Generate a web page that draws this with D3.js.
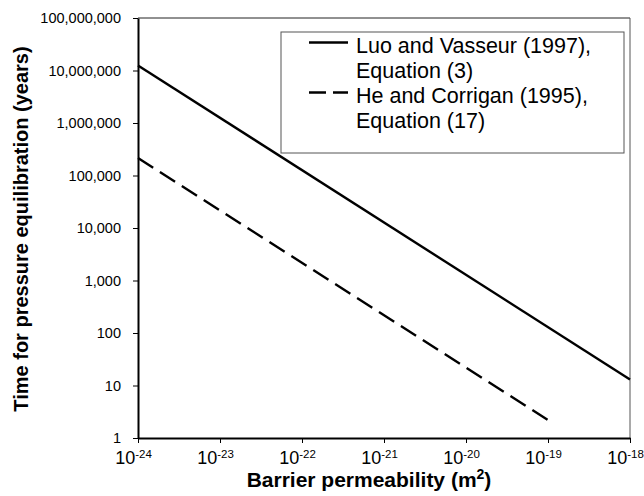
<!DOCTYPE html>
<html>
<head>
<meta charset="utf-8">
<script src="https://cdn.jsdelivr.net/npm/d3@7"></script>
<style>
  body { margin: 0; background: #fff; }
  svg { display: block; font-family: "Liberation Sans", Arial, sans-serif; }
</style>
</head>
<body>
<div id="chart"></div>
<script>
// permeability (m^2) vs time for pressure equilibration (years), log-log
var xTicks = [1e-24, 1e-23, 1e-22, 1e-21, 1e-20, 1e-19, 1e-18];
var xTickExp = ["-24", "-23", "-22", "-21", "-20", "-19", "-18"];
var yTicks = [1, 10, 100, 1e3, 1e4, 1e5, 1e6, 1e7, 1e8];

var luoK = [1e-24, 1e-18];
var luoT = [1.25e7, 13];
var heK = [1e-24, 1e-19];
var heT = [2.15e5, 2.2];

var legendItems = [
	{lines: ["Luo and Vasseur (1997),", "Equation (3)"], dash: null},
	{lines: ["He and Corrigan (1995),", "Equation (17)"], dash: "17,7"}
];

var W = 644, H = 496;
var margin = {top: 18, right: 14, bottom: 58, left: 138};
var width = W - margin.left - margin.right;
var height = H - margin.top - margin.bottom;
var FONT = "'Liberation Sans', Arial, sans-serif";

var svg = d3.select("#chart").append("svg").attr("width", W).attr("height", H);
var g = svg.append("g").attr("transform", "translate(" + margin.left + "," + margin.top + ")");

var x = d3.scaleLog().domain([1e-24, 1e-18]).range([0, width]);
var y = d3.scaleLog().domain([1, 1e8]).range([height, 0]);

//frame: thin top and right
g.append("line").attr("x1", 0).attr("x2", width).attr("y1", 0).attr("y2", 0)
	.attr("stroke", "#222").attr("stroke-width", 1);
g.append("line").attr("x1", width).attr("x2", width).attr("y1", 0).attr("y2", height)
	.attr("stroke", "#555").attr("stroke-width", 1);

//y axis
var yAxis = g.append("g")
	.call(d3.axisLeft(y).tickValues(yTicks).tickFormat(d3.format(",")).tickSize(5).tickSizeOuter(0).tickPadding(12))
	.attr("font-family", FONT).attr("font-size", 14.5);
yAxis.select(".domain").attr("stroke-width", 2);
yAxis.selectAll(".tick line").attr("stroke-width", 1);
yAxis.selectAll(".tick text").attr("fill", "#000");

//x axis
var xAxis = g.append("g").attr("transform", "translate(0," + height + ")")
	.call(d3.axisBottom(x).tickValues(xTicks).tickFormat("").tickSize(5).tickSizeOuter(0))
	.attr("font-family", FONT).attr("font-size", 18);
xAxis.select(".domain").attr("stroke-width", 2);
xAxis.selectAll(".tick line").attr("stroke-width", 1);
xAxis.selectAll(".tick text").remove();
var xt = xAxis.selectAll(".tick").append("text")
	.attr("y", 25.5).attr("dx", -5)
	.attr("text-anchor", "middle")
	.attr("fill", "#000");
xt.append("tspan").text("10");
xt.append("tspan").attr("font-size", 11.5).attr("dy", -6)
	.text(function(d, i){ return xTickExp[i]; });

//data lines
var line = d3.line().x(function(d){ return x(d[0]); }).y(function(d){ return y(d[1]); });

g.append("path").datum(d3.zip(luoK, luoT))
	.attr("d", line).attr("fill", "none").attr("stroke", "#000").attr("stroke-width", 2.4);
g.append("path").datum(d3.zip(heK, heT))
	.attr("d", line).attr("fill", "none").attr("stroke", "#000").attr("stroke-width", 2.4)
	.attr("stroke-dasharray", "18,8");

//axis titles
svg.append("text")
	.attr("transform", "translate(28," + (margin.top + height / 2 + 1) + ") rotate(-90)")
	.attr("text-anchor", "middle")
	.attr("font-size", 20).attr("font-weight", "bold")
	.text("Time for pressure equilibration (years)");

var xTitle = svg.append("text")
	.attr("x", margin.left + width / 2 - 15).attr("y", 487)
	.attr("text-anchor", "middle")
	.attr("font-size", 21).attr("font-weight", "bold");
xTitle.append("tspan").text("Barrier permeability (m");
xTitle.append("tspan").attr("font-size", 14).attr("dy", -8).text("2");
xTitle.append("tspan").attr("dy", 8).text(")");

//legend
var lg = svg.append("g").attr("transform", "translate(281,32)");
lg.append("rect").attr("width", 343).attr("height", 121)
	.attr("fill", "#fff").attr("stroke", "#555").attr("stroke-width", 1);

var item = lg.selectAll("g.item").data(legendItems).enter().append("g")
	.attr("class", "item")
	.attr("transform", function(d, i){ return "translate(0," + (i * 50) + ")"; });
item.append("line")
	.attr("x1", 28).attr("x2", 67).attr("y1", 10.5).attr("y2", 10.5)
	.attr("stroke", "#000").attr("stroke-width", 2.4)
	.attr("stroke-dasharray", function(d){ return d.dash; });
item.each(function(d){
	var t = d3.select(this).append("text").attr("font-size", 21.5).attr("fill", "#000");
	t.selectAll("tspan").data(d.lines).enter().append("tspan")
		.attr("x", 75)
		.attr("y", function(dd, i){ return 21 + i * 25; })
		.text(function(dd){ return dd; });
});
</script>
</body>
</html>
